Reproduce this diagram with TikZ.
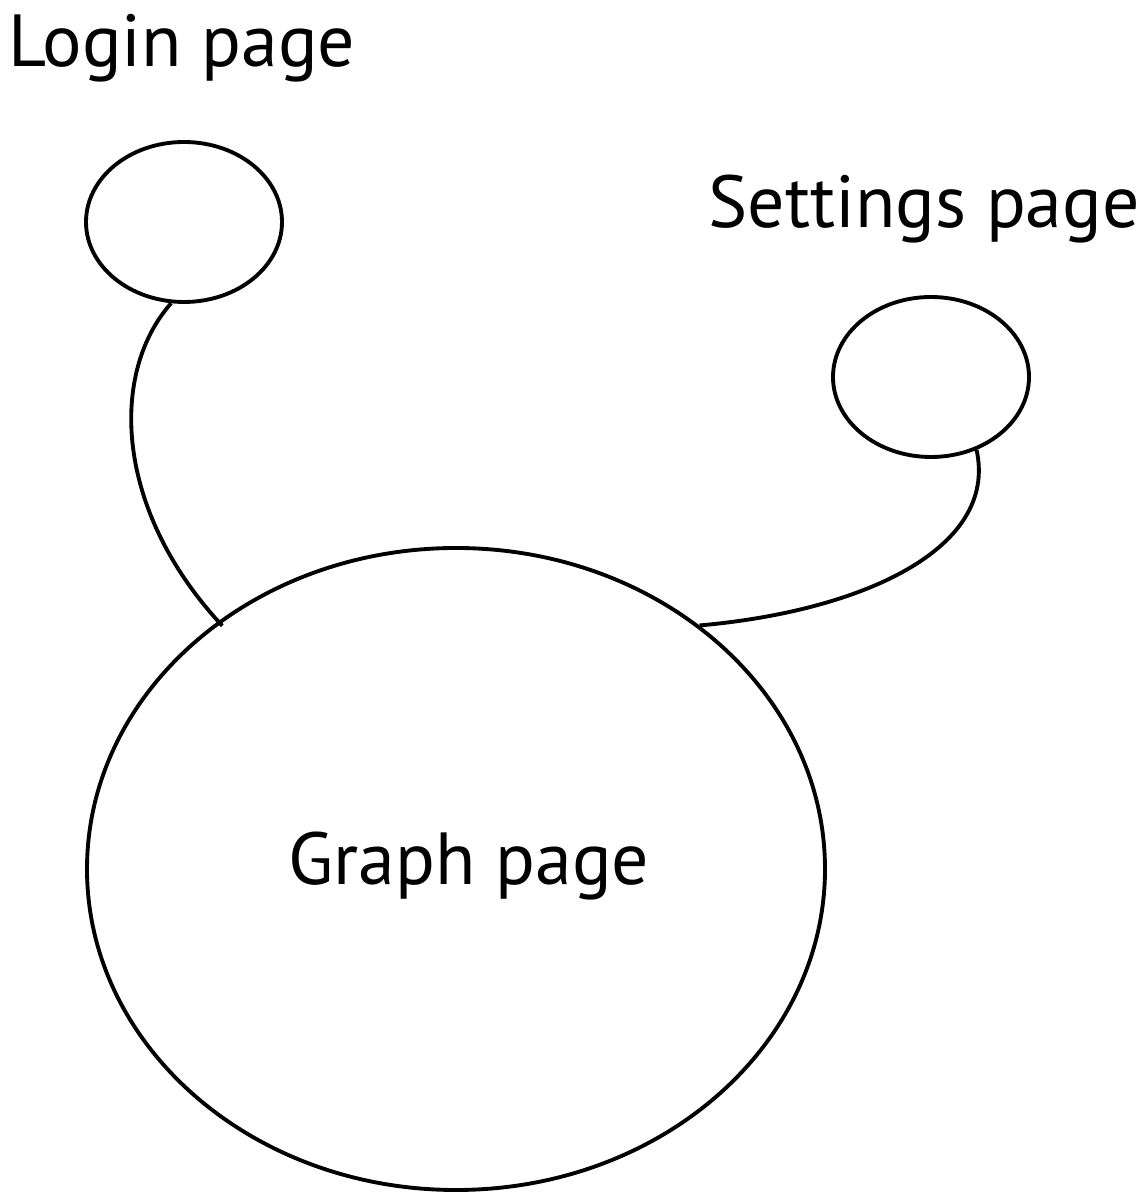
\documentclass[tikz,border=0pt]{standalone}
\usepackage{fontspec}
\setmainfont{PT Sans}
\usetikzlibrary{shapes.geometric}

\tikzset{
	page/.style  = {draw, ellipse, line width=1.1pt, inner sep=0pt},
	link/.style  = {line width=1.1pt},
	title/.style = {anchor=base west, inner sep=0pt, font=\fontsize{21}{25}\selectfont},
}

\begin{document}
\begin{tikzpicture}
	\useasboundingbox (0,0) rectangle (11.40,11.92);
	\node[page, minimum width=1.96cm, minimum height=1.60cm] (login) at (1.84,9.70) {};
	\node[page, minimum width=1.96cm, minimum height=1.60cm] (settings) at (9.31,8.15) {};
	\node[page, minimum width=7.38cm, minimum height=6.42cm] (graph) at (4.56,3.23) {};
	\node[title] (graphtxt) at (2.88,3.07) {Graph page};
	\node[title] (logintxt) at (0.08,11.25) {Login page}; %label sits above its bubble
	\node[title] (settingstxt) at (7.08,9.64) {Settings page};
	% connectors into the graph page
	\draw[link] (login.261) .. controls +(-0.62,-0.70) and +(-1.08,1.16) .. ([shift={(0.05,-0.04)}]graph.134);
	\draw[link] (settings.302) .. controls +(0.22,-1.00) and +(1.60,0.14) .. (graph.45);
\end{tikzpicture}
\end{document}
